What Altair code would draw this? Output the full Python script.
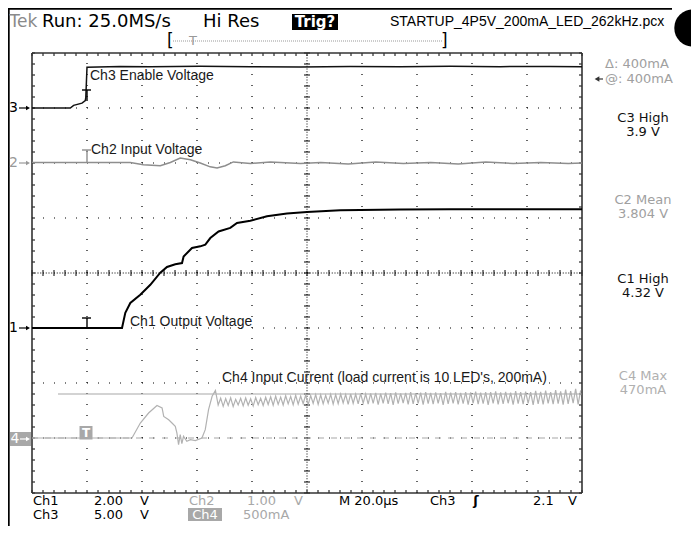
import altair as alt
import pandas as pd
import numpy as np

# ---------------- data ----------------
# time in microseconds (M 20.0us/div, trigger at 0), screen spans -20 .. 180 us
# Ch1 output voltage, volts (2.00 V/div, ground marker at -1 div)
ch1_t = [-20, 12.73, 13.93, 15.75, 19.38, 23.02, 26.65, 29.09, 32.1, 34.55, 35.13, 38.18,
         41.2, 43.02, 44.84, 47.85, 52.1, 54.55, 59.4, 65.45, 72.7, 80.0, 92.1, 113.9,
         132.1, 150.3, 180]
ch1_v = [0, 0, 0.55, 0.91, 1.21, 1.57, 2.01, 2.22, 2.32, 2.36, 2.60, 2.91, 2.97, 3.03,
         3.27, 3.51, 3.64, 3.82, 3.90, 4.06, 4.16, 4.22, 4.28, 4.31, 4.32, 4.32, 4.32]
# Ch2 input voltage, volts (1.00 V/div, marker at +2 div, offset 3.8 V)
ch2_t = [-20, 15.75, 20.5, 26.65, 30.3, 33.9, 37.6, 41.2, 44.8, 47.3, 50.3, 53.2, 59.4,
         66.7, 77.6, 85, 95, 105, 115, 125, 135, 145, 155, 165, 175, 180]
ch2_v = [3.81, 3.81, 3.77, 3.75, 3.81, 3.89, 3.86, 3.80, 3.73, 3.71, 3.75, 3.82, 3.79,
         3.82, 3.79, 3.81, 3.78, 3.82, 3.79, 3.81, 3.78, 3.82, 3.79, 3.81, 3.79, 3.80]
# Ch3 enable voltage, volts (5.00 V/div, marker at +3 div)
ch3_t = [-20, -6.07, -4.87, -1.82, -0.62, -0.44, 0.0, 12.1, 23.0, 41.2, 59.4, 77.6, 95.7,
         113.9, 132.1, 150.3, 168.5, 180]
ch3_v = [0, 0, 0.24, 0.44, 0.67, 0.94, 3.71, 3.78, 3.74, 3.80, 3.76, 3.72, 3.77, 3.74,
         3.80, 3.76, 3.78, 3.75]
# Ch4 input current, mA (500 mA/div, marker at -3 div)
ch4_pre_t = [-20, 16.36, 19.39, 22.4, 25.45, 27.3, 27.9, 29.7, 30.9, 32.1, 32.7, 33.3,
             33.9, 34.5, 35.1, 36.3, 37.6, 39.4, 41.8, 43.0, 44.2, 45.5, 46.7]
ch4_pre_ma = [0, 0, 136, 227, 296, 273, 196, 166, 136, 106, 45, -61, 30, -52, 15, -30,
              -15, -24, 0, 76, 258, 379, 433]
ch4_osc_start = 47.7      # us, first sample of the switching ripple
ch4_osc_step = 0.909      # us between samples
ch4_osc_ma = [300, 362, 288, 358, 296, 366, 286, 352, 300, 360, 292, 364, 298, 356, 290,
              368, 302, 362, 296, 370,
              304, 374, 298, 380, 306, 372, 300, 384, 310, 378, 302, 388, 308, 382, 312,
              390, 304, 386, 314, 394, 306, 392, 310, 388, 316, 398, 308, 394, 312, 400,
              318, 396, 306, 402, 314, 398, 310, 404, 316, 400,
              308, 406, 314, 410, 304, 404, 316, 412, 310, 408,
              302, 414, 312, 406, 318, 410, 306, 416, 310, 408,
              314, 412, 304, 418, 312, 410, 308, 414, 316, 408,
              302, 420, 310, 412, 314, 416, 306, 410, 312, 418,
              304, 414, 316, 422, 308, 412, 312, 418, 302, 416,
              314, 424, 306, 414, 310, 420, 316, 412, 304, 426,
              312, 418, 308, 422, 314, 416, 302, 428, 310, 420,
              306, 430, 314, 418, 308, 436, 312, 424, 304, 440,
              310, 426, 316, 446, 306, 432]
cursor_ma = [400, 0]

# ---------------- helpers ----------------
xs = alt.Scale(domain=[-20, 180], nice=False, zero=False)
ys = alt.Scale(domain=[-4, 4], nice=False, zero=False)
PLOT_X0, PLOT_Y0 = 32, 53          # page position of the graticule's top-left corner


def PX(x):   # page pixel -> time
    return (x - (PLOT_X0 + 55)) / 55.0 * 20.0


def PY(y):   # page pixel -> division
    return (PLOT_Y0 + 220 - y) / 55.0


def X(f="t"):
    return alt.X(f + ":Q", scale=xs, axis=None)


def Y(f="d"):
    return alt.Y(f + ":Q", scale=ys, axis=None)


def rules(rows, color, width=1.0, dash=None):
    df = pd.DataFrame(rows, columns=["t", "d", "t2", "d2"])
    kw = dict(color=color, strokeWidth=width)
    if dash:
        kw["strokeDash"] = dash
    return alt.Chart(df).mark_rule(**kw).encode(
        x=X("t"), x2=alt.X2("t2:Q"), y=Y("d"), y2=alt.Y2("d2:Q"))


def rects(rows, color):
    df = pd.DataFrame(rows, columns=["t", "d", "t2", "d2"])
    return alt.Chart(df).mark_rect(color=color).encode(
        x=X("t"), x2=alt.X2("t2:Q"), y=Y("d"), y2=alt.Y2("d2:Q"))


def txt(items, size, color="#000", font="DejaVu Sans", align="left", weight="normal"):
    df = pd.DataFrame(items, columns=["px", "py", "s"])
    df["t"] = PX(df["px"])
    df["d"] = PY(df["py"])
    return alt.Chart(df).mark_text(fontSize=size, color=color, font=font, align=align,
                                   baseline="middle", fontWeight=weight).encode(
        x=X(), y=Y(), text="s:N")


def pts(items, shape, size, color):
    df = pd.DataFrame(items, columns=["px", "py"])
    df["t"] = PX(df["px"])
    df["d"] = PY(df["py"])
    return alt.Chart(df).mark_point(shape=shape, filled=True, size=size, color=color,
                                    opacity=1).encode(x=X(), y=Y())


def trace(t, d, color, width):
    df = pd.DataFrame({"t": t, "d": d})
    return alt.Chart(df).mark_line(color=color, strokeWidth=width).encode(
        x=X(), y=Y(), order="t:Q")


layers = []

# ---------------- graticule ----------------
cols = [-20 + 20 * k for k in range(1, 10) if k != 5]
rows_d = [k for k in range(-3, 4) if k != 0]
layers.append(rules([(c, -4, c, 4) for c in cols], "#000", 1.2, [1, 10]))
layers.append(rules([(-20, r, 180, r) for r in rows_d], "#000", 1.2, [1, 10]))
layers.append(rules([(80, -4, 80, 4), (-20, 0, 180, 0)], "#000", 1.0, [1, 1.75]))
tk_t = 3 / 55 * 20
tk_d = 3 / 55
sub_t = list(np.arange(-20, 180.01, 4))
sub_d = list(np.arange(-4, 4.01, 0.2))
ticks = []
for t in sub_t:
    ticks.append((t, 4, t, 4 - tk_d))
    ticks.append((t, -4, t, -4 + tk_d))
    ticks.append((t, -tk_d, t, tk_d))
for d in sub_d:
    ticks.append((-20, d, -20 + tk_t, d))
    ticks.append((180, d, 180 - tk_t, d))
    ticks.append((80 - tk_t, d, 80 + tk_t, d))
layers.append(rules(ticks, "#000", 1.0))
layers.append(rules([(-20, 4, 180, 4), (-20, -4, 180, -4), (-20, -4, -20, 4), (180, -4, 180, 4)],
                    "#333", 1.6))

# outer screen border
layers.append(rules([(PX(8.8), PY(8), PX(8.8), PY(526))], "#000", 1.8))
layers.append(rules([(PX(8), PY(8.8), PX(672), PY(8.8))], "#000", 1.8))

# ---------------- cursors ----------------
layers.append(rules([(PX(58), -3 + cursor_ma[0] / 500, 180, -3 + cursor_ma[0] / 500)], "#a8a8a8", 1.2))
layers.append(rules([(-20, -3 + cursor_ma[1] / 500, 180, -3 + cursor_ma[1] / 500)], "#a8a8a8", 1.2, [6, 7]))

# ---------------- traces ----------------
osc_t = [round(ch4_osc_start + ch4_osc_step * i, 3) for i in range(len(ch4_osc_ma))]
ch4_t = ch4_pre_t + osc_t
ch4_all = ch4_pre_ma + ch4_osc_ma
layers.append(trace(ch4_t, [-3 + v / 500 for v in ch4_all], "#b2b2b2", 1.2))
layers.append(trace(ch2_t, [2 + (v - 3.8) for v in ch2_v], "#8e8e8e", 1.5))
layers.append(trace(ch3_t, [3 + v / 5 for v in ch3_v], "#111", 1.5))
layers.append(trace(ch1_t, [-1 + v / 2 for v in ch1_v], "#000", 2.0))

# trigger "T" markers on the traces
layers.append(rules([(PX(82), PY(90), PX(91), PY(90)), (PX(87), PY(90), PX(87), PY(101)),
                     (PX(82), PY(318), PX(91), PY(318)), (PX(87), PY(318), PX(87), PY(328))],
                    "#000", 1.4))
layers.append(rules([(PX(82), PY(150), PX(91), PY(150)), (PX(87), PY(150), PX(87), PY(163))],
                    "#8e8e8e", 1.4))
layers.append(rects([(PX(79.5), PY(426), PX(92.5), PY(439.5))], "#a8a8a8"))
layers.append(txt([(86, 433, "T")], 12, "#fff", "DejaVu Sans", "center", "bold"))

# channel ground markers on the left edge
layers.append(rects([(PX(10), PY(432), PX(31), PY(446))], "#a8a8a8"))
layers.append(txt([(13.5, 108, "3"), (13.5, 328, "1")], 14, "#000", "DejaVu Sans", "center"))
layers.append(txt([(13.5, 163, "2")], 14, "#999", "DejaVu Sans", "center"))
layers.append(txt([(15, 439, "4")], 14, "#fff", "DejaVu Sans", "center"))
layers.append(rules([(PX(19), PY(108), PX(27), PY(108)), (PX(19), PY(328), PX(27), PY(328))], "#000", 1.2))
layers.append(rules([(PX(19), PY(163), PX(27), PY(163))], "#999", 1.2))
layers.append(rules([(PX(20), PY(439), PX(27), PY(439))], "#fff", 1.2))
layers.append(pts([(28, 108), (28, 328)], "triangle-right", 22, "#000"))
layers.append(pts([(28, 163)], "triangle-right", 22, "#999"))
layers.append(pts([(28, 439)], "triangle-right", 22, "#fff"))

# trace labels
layers.append(txt([(90, 76, "Ch3 Enable Voltage"), (91, 150, "Ch2 Input Voltage"),
                   (130, 322, "Ch1 Output Voltage")], 14, "#1a1a1a", "Liberation Sans"))
layers.append(txt([(222, 378, "Ch4 Input Current (load current is 10 LED's, 200mA)")],
                  14, "#1a1a1a", "Liberation Sans"))

# ---------------- top status bar ----------------
layers.append(txt([(9.5, 22, "Tek")], 17, "#8a8a8a"))
layers.append(txt([(42, 22, "Run: 25.0MS/s"), (203, 22, "Hi Res")], 18, "#000"))
layers.append(rects([(PX(292), PY(14), PX(338), PY(30))], "#000"))
layers.append(txt([(315, 22, "Trig?")], 15, "#fff", "DejaVu Sans", "center", "bold"))
layers.append(txt([(390, 22, "STARTUP_4P5V_200mA_LED_262kHz.pcx")], 14, "#000", "Liberation Sans"))
layers.append(pts([(693, 28)], "circle", 1400, "#000"))
layers.append(txt([(167, 41, "["), (441, 41, "]")], 17, "#000", "DejaVu Sans"))
layers.append(rules([(PX(173), PY(41), PX(442), PY(41))], "#999", 1.0, [1, 1]))
layers.append(txt([(193, 41, "T")], 13, "#999", "DejaVu Sans", "center"))

# ---------------- right measurement panel ----------------
RF = 13
layers.append(txt([(605, 64, "\u0394: 400mA"), (605, 79, "@: 400mA")], RF, "#a0a0a0"))
layers.append(rules([(PX(597), PY(79), PX(603), PY(79))], "#333", 1.2))
layers.append(pts([(597, 79)], "triangle-left", 30, "#333"))
layers.append(txt([(643, 118, "C3 High"), (643, 132, "3.9 V"),
                   (643, 278.5, "C1 High"), (643, 292.5, "4.32 V")], RF, "#111", "DejaVu Sans", "center"))
layers.append(txt([(643, 199.5, "C2 Mean"), (643, 213.5, "3.804 V")], RF, "#a0a0a0", "DejaVu Sans", "center"))
layers.append(txt([(643, 375.5, "C4 Max"), (643, 389.5, "470mA")], RF, "#b0b0b0", "DejaVu Sans", "center"))

# ---------------- bottom settings bar ----------------
R1, R2, FS = 501, 514.5, 13
layers.append(txt([(33, R1, "Ch1"), (94, R1, "2.00"), (339, R1, "M 20.0\u00b5s"), (430, R1, "Ch3"),
                   (533, R1, "2.1"), (33, R2, "Ch3"), (94, R2, "5.00")], FS, "#000"))
layers.append(txt([(149, R1, "V"), (577, R1, "V"), (149, R2, "V")], FS, "#000", "DejaVu Sans", "right"))
layers.append(txt([(476, R1, "\u0283")], FS, "#000", "DejaVu Sans", "center", "bold"))
layers.append(txt([(189, R1, "Ch2"), (247, R1, "1.00"), (243, R2, "500mA")], FS, "#a8a8a8"))
layers.append(txt([(303, R1, "V")], FS, "#a8a8a8", "DejaVu Sans", "right"))
layers.append(rects([(PX(188), PY(508), PX(222), PY(521))], "#a8a8a8"))
layers.append(txt([(205, R2, "Ch4")], FS, "#fff", "DejaVu Sans", "center"))

chart = alt.layer(*layers).properties(
    width=550, height=440,
    padding={"left": PLOT_X0 - 8, "top": PLOT_Y0 - 8, "right": 683 - (PLOT_X0 - 8) - 550,
             "bottom": 518 - (PLOT_Y0 - 8) - 440},
    autosize=alt.AutoSizeParams(type="none"),
    background="#ffffff",
).configure_view(stroke=None)

chart.save("out.html", embed_options={"renderer": "svg", "actions": False})
